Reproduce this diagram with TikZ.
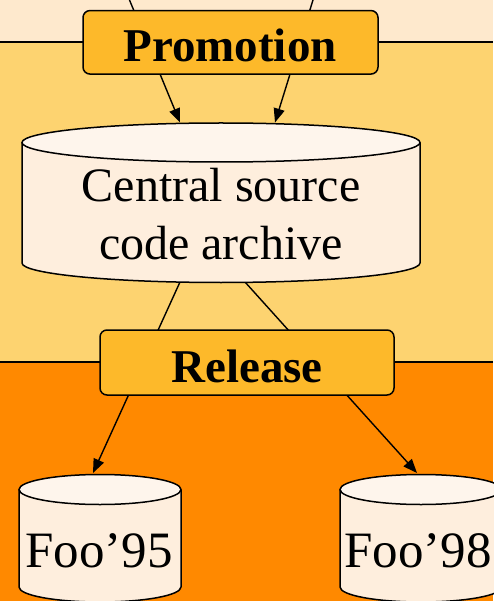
\documentclass[tikz,border=0pt]{standalone}
\usepackage{fontspec}
\setmainfont{Liberation Serif}
\usetikzlibrary{arrows.meta}

\definecolor{bandTop}{RGB}{254,233,205}
\definecolor{bandMid}{RGB}{253,211,112}
\definecolor{bandLow}{RGB}{255,137,0}
\definecolor{stepFill}{RGB}{253,185,42}
\definecolor{archTop}{RGB}{254,245,236}
\definecolor{archBody}{RGB}{254,238,221}

% cylinder: #1 centre x, #2 top-ellipse centre y, #3 bottom-ellipse centre y, #4 x radius, #5 y radius
\newcommand\drawArchive[5]{%
  \fill[archBody] (#1-#4,#2) -- (#1-#4,#3)
     arc[start angle=180,end angle=0,x radius=#4,y radius=#5] -- (#1+#4,#2) -- cycle;
  \draw[cylline] (#1-#4,#2) -- (#1-#4,#3)
     arc[start angle=180,end angle=0,x radius=#4,y radius=#5] -- (#1+#4,#2);
  \filldraw[cylline,fill=archTop] (#1,#2) ellipse[x radius=#4,y radius=#5];
}

\begin{document}
\begin{tikzpicture}[x=1pt,y=-1pt,
  bandline/.style={line width=1.2pt,draw=black},
  cylline/.style={line width=1.5pt,draw=black},
  flow/.style={line width=1.4pt,draw=black},
  flowtip/.style={flow,-{Triangle[length=14pt,width=11pt]}},
  stepbox/.style={draw=black,line width=1.5pt,fill=stepFill,rounded corners=7pt,
    inner sep=0pt,rectangle},
  steplabel/.style={font=\fontsize{47pt}{56pt}\selectfont\bfseries,inner sep=0pt},
  storelabel/.style={inner sep=0pt,align=center}
]
\useasboundingbox (0,0) rectangle (493,601);

% stage bands
\fill[bandTop] (0,0) rectangle (493,42);
\fill[bandMid] (0,42) rectangle (493,362);
\fill[bandLow] (0,362) rectangle (493,601);
\draw[bandline] (0,42) -- (493,42);
\draw[bandline] (0,362) -- (493,362);

% connector end points
\coordinate (inL) at (129.5,0);
\coordinate (inR) at (313,0);
\coordinate (archInL) at (180,122.5);
\coordinate (archInR) at (275,122.5);
\coordinate (archOutL) at (180,282);
\coordinate (archOutR) at (245,282);
\coordinate (fooAIn) at (93,473);
\coordinate (fooBIn) at (417,473);

% connectors (they run behind the step boxes)
\draw[flowtip] (inL) -- (archInL);
\draw[flowtip] (inR) -- (archInR);
\draw[flowtip] (archOutL) -- (fooAIn);
\draw[flowtip] (archOutR) -- (fooBIn);

% step boxes
\node[stepbox,minimum width=295pt,minimum height=63.5pt] (promo) at (230.5,42.3) {};
\node[steplabel,anchor=base] (promoText) at (230,62) {Promotion};
\node[stepbox,minimum width=294pt,minimum height=65pt] (release) at (247,362.5) {};
\node[steplabel,anchor=base] (releaseText) at (247,382) {Release};

% archives
\drawArchive{221}{142.5}{263}{199}{19.5}
\drawArchive{100}{489.5}{587}{81}{15}
\drawArchive{421}{489.5}{587}{81}{15}

\node[storelabel,font=\fontsize{48pt}{58pt}\selectfont] (archive) at (221,214.5)
  {Central source\\code archive};
\node[storelabel,anchor=base,font=\fontsize{51pt}{60pt}\selectfont] (fooA) at (99,567) {Foo’95};
\node[storelabel,anchor=base,font=\fontsize{51pt}{60pt}\selectfont] (fooB) at (418,567) {Foo’98};
\end{tikzpicture}
\end{document}
